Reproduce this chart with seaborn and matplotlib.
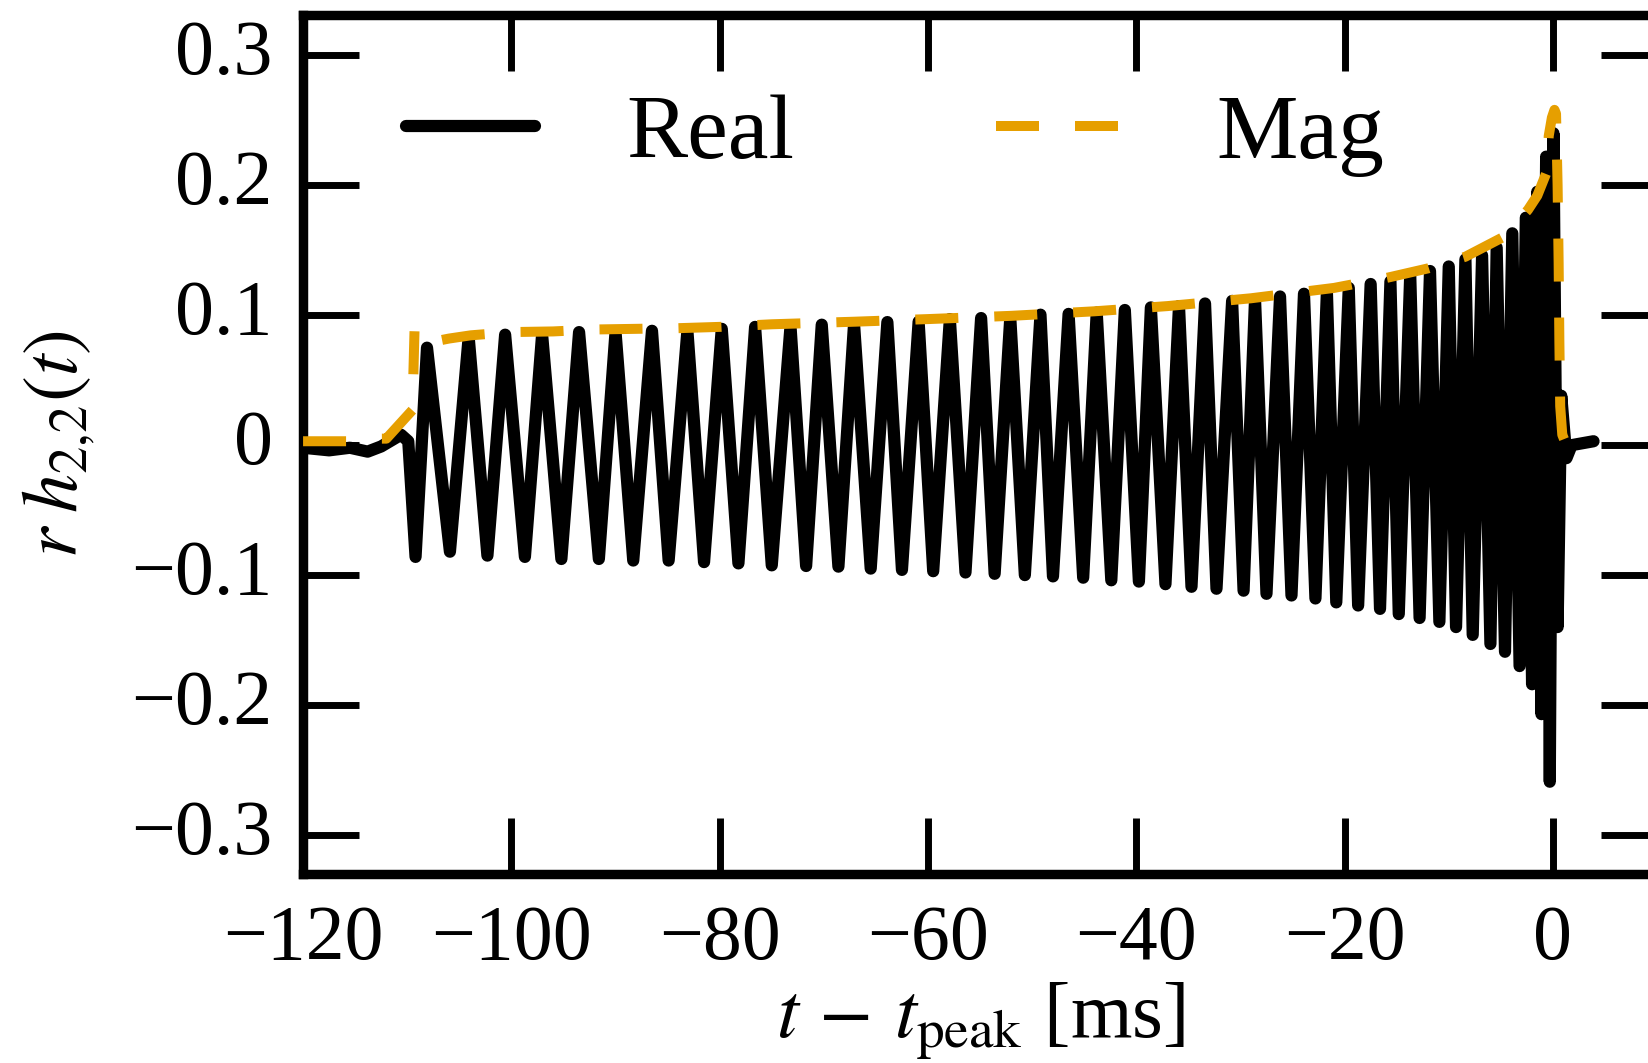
import matplotlib
matplotlib.use("Agg")
import matplotlib.pyplot as plt
import numpy as np
import pandas as pd
import seaborn as sns

# ---- data (extrema of the real part, samples of the magnitude) ----
real_t = [-120.0, -117.5, -115.5, -113.8, -112.5, -110.6, -109.9,
          -109.2, -108.1, -105.9, -104.1, -102.3, -100.6, -98.7, -97.05,
          -95.2, -93.5, -91.6, -90.0, -88.3, -86.5, -84.9, -83.1,
          -81.5, -79.8, -78.2, -76.6, -75.0, -73.2, -71.7, -70.2,
          -68.6, -67.1, -65.5, -63.9, -62.5, -60.9, -59.5, -57.9,
          -56.4, -54.9, -53.6, -52.1, -50.7, -49.2, -48.0, -46.5,
          -45.1, -43.8, -42.4, -41.1, -39.75, -38.6, -37.2, -35.9,
          -34.7, -33.4, -32.3, -30.8, -29.7, -28.6, -27.5, -26.2,
          -25.1, -23.9, -22.8, -21.7, -20.8, -19.6, -18.7, -17.5,
          -16.6, -15.6, -14.8, -13.7, -12.8, -11.8, -10.9, -10.0,
          -9.3, -8.4, -7.7, -6.8, -6.0, -5.4, -4.6, -3.9,
          -3.2, -2.6, -2.0, -1.5, -1.1, -0.65, -0.3, 0.05,
          0.45, 0.8, 1.3, 1.8, 3.9]
real_v = [-0.002, -0.004, -0.002, -0.005, -0.001, 0.008, 0.003,
          -0.086, 0.075, -0.082, 0.083, -0.085, 0.085, -0.086, 0.085,
          -0.0876, 0.087, -0.0876, 0.087, -0.0888, 0.088, -0.0888, 0.088,
          -0.090, 0.0895, -0.091, 0.091, -0.0925, 0.0914, -0.093, 0.0927,
          -0.0935, 0.093, -0.095, 0.0947, -0.096, 0.095, -0.097, 0.097,
          -0.098, 0.0978, -0.099, 0.098, -0.100, 0.1004, -0.101, 0.101,
          -0.102, 0.102, -0.104, 0.104, -0.105, 0.106, -0.107, 0.107,
          -0.109, 0.109, -0.1105, 0.111, -0.112, 0.112, -0.1144, 0.1144,
          -0.1157, 0.1165, -0.118, 0.118, -0.121, 0.121, -0.1234, 0.124,
          -0.126, 0.126, -0.130, 0.131, -0.133, 0.134, -0.136, 0.1375,
          -0.140, 0.143, -0.146, 0.146, -0.153, 0.152, -0.159, 0.163,
          -0.170, 0.175, -0.184, 0.195, -0.207, 0.222, -0.259, 0.240,
          -0.140, 0.038, -0.010, 0.000, 0.003]

mag_t = [-120.0, -115.5, -113.8, -112.0, -109.5, -109.4, -109.3,
         -108.6, -107.9, -106.0, -103.9, -100.0, -96.0, -92.0, -88.0,
         -84.0, -80.0, -75.0, -67.0, -60.0, -52.0, -44.0, -37.0,
         -29.0, -21.0, -15.8, -12.0, -8.4, -4.8, -2.4, -1.5,
         -0.6, -0.4, -0.1, 0.15, 0.3, 0.45, 0.55, 0.62,
         0.7, 0.9, 1.3]
mag_v = [0.003, 0.003, 0.005, 0.005, 0.027, 0.058, 0.088,
         0.078, 0.079, 0.082, 0.0845, 0.087, 0.0875, 0.089, 0.0895,
         0.090, 0.091, 0.093, 0.095, 0.097, 0.0995, 0.103, 0.107,
         0.113, 0.121, 0.129, 0.136, 0.145, 0.160, 0.181, 0.192,
         0.210, 0.238, 0.252, 0.258, 0.255, 0.200, 0.140, 0.080,
         0.030, 0.008, 0.000]

series_labels = ["Real", "Mag"]
x_ticks = [-120, -100, -80, -60, -40, -20, 0]
x_tick_labels = ["\u2212120", "\u2212100", "\u221280", "\u221260", "\u221240", "\u221220", "0"]
y_ticks = [-0.3, -0.2, -0.1, 0.0, 0.1, 0.2, 0.3]
y_tick_labels = ["\u22120.3", "\u22120.2", "\u22120.1", "0", "0.1", "0.2", "0.3"]
x_label = r"$t\,-\,t_{\rm peak}$ [ms]"
y_label = r"$r\;h_{2{,}2}(t)$"

# ---- style ----
sns.set_theme(style="ticks")
plt.rcParams["font.family"] = ["Liberation Serif", "DejaVu Serif"]
plt.rcParams["mathtext.fontset"] = "stix"
plt.rcParams["axes.unicode_minus"] = True
plt.rcParams["text.color"] = "black"
plt.rcParams["axes.labelcolor"] = "black"
plt.rcParams["xtick.color"] = "black"
plt.rcParams["ytick.color"] = "black"

fig = plt.figure(figsize=(16.48, 10.63), dpi=100)
ax = fig.add_axes([0.1839, 0.1778, 1.0055 - 0.1839, 0.9859 - 0.1778])

real_df = pd.DataFrame({"t": real_t, "h": real_v})
mag_df = pd.DataFrame({"t": mag_t, "h": mag_v})

sns.lineplot(data=real_df, x="t", y="h", ax=ax, color="black", lw=8.8,
             label=series_labels[0], estimator=None, sort=False,
             solid_joinstyle="round", zorder=2)
sns.lineplot(data=mag_df, x="t", y="h", ax=ax, color="#E69F00", lw=7.2,
             linestyle=(0, (4.3, 3.6)), label=series_labels[1],
             estimator=None, sort=False, zorder=3)

ax.set_xlim(-120, 10)
ax.set_ylim(-0.33, 0.331)
ax.set_xticks(x_ticks)
ax.set_xticklabels(x_tick_labels)
ax.set_yticks(y_ticks)
ax.set_yticklabels(y_tick_labels, va="center")
ax.minorticks_off()

for s in ax.spines.values():
    s.set_visible(True)
    s.set_linewidth(6.8)
    s.set_color("black")

ax.tick_params(axis="both", which="major", direction="in", length=40, width=5,
               top=True, right=True, labelsize=56, pad=22, colors="black")

ax.set_xlabel(x_label, fontsize=57, color="black")
ax.set_ylabel(y_label, fontsize=56, color="black")
ax.xaxis.set_label_coords(0.5, -0.124)
ax.yaxis.set_label_coords(-0.152, 0.5)

leg = ax.legend(loc="center left", bbox_to_anchor=(0.0762, 0.860), ncol=2,
                frameon=False, fontsize=66, handlelength=1.4, handletextpad=1.0,
                columnspacing=2.2, borderpad=0, borderaxespad=0)
for txt in leg.get_texts():
    txt.set_color("black")

fig.savefig("out.png", dpi=100)
